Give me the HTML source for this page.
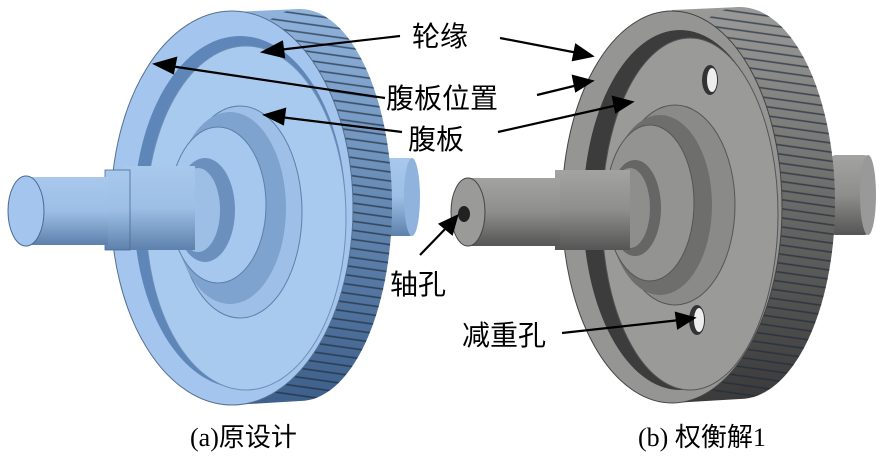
<!DOCTYPE html>
<html><head><meta charset="utf-8"><style>
html,body{margin:0;padding:0;background:#fff;width:880px;height:458px;overflow:hidden}
svg{display:block}
text{font-family:"Liberation Serif","Noto Sans CJK SC",serif;fill:#000}
</style></head><body>
<svg width="880" height="458" viewBox="0 0 880 458" xmlns="http://www.w3.org/2000/svg">
<defs>
<linearGradient id="bt" x1="0" y1="0" x2="0" y2="1"><stop offset="0" stop-color="#8fb3dc"/><stop offset="1" stop-color="#3d5f8a"/></linearGradient>
<linearGradient id="gt" x1="0" y1="0" x2="0" y2="1"><stop offset="0" stop-color="#9a9a98"/><stop offset="1" stop-color="#3a3a3a"/></linearGradient>
<linearGradient id="bs" x1="0" y1="0" x2="0" y2="1"><stop offset="0" stop-color="#a8c8ec"/><stop offset="0.5" stop-color="#9dbfe6"/><stop offset="1" stop-color="#5d81ac"/></linearGradient>
<linearGradient id="gs" x1="0" y1="0" x2="0" y2="1"><stop offset="0" stop-color="#a3a3a1"/><stop offset="0.5" stop-color="#8e8e8c"/><stop offset="1" stop-color="#555"/></linearGradient>
<pattern id="stripe" width="10" height="9" patternUnits="userSpaceOnUse" patternTransform="rotate(8)"><rect width="10" height="9" fill="none"/><line x1="0" y1="8" x2="10" y2="8" stroke="#1e2a3a" stroke-width="1.6" opacity="0.7"/></pattern>
</defs>

<!-- LEFT GEAR -->
<rect x="375" y="158" width="40" height="78" rx="6" fill="url(#bs)"/>
<ellipse cx="412" cy="197" rx="8" ry="39" fill="#8fb3dc"/>
<ellipse cx="300" cy="205" rx="92" ry="196" fill="url(#bt)"/>
<polygon points="232,12 300,9 300,401 232,405" fill="url(#bt)"/>
<ellipse cx="300" cy="205" rx="92" ry="196" fill="url(#stripe)"/>
<ellipse cx="232" cy="208" rx="121" ry="197" fill="#a4c6ee" stroke="#55708f" stroke-width="1"/>
<ellipse cx="240" cy="212" rx="106" ry="176" fill="#5e86b8"/>
<ellipse cx="246" cy="218" rx="100" ry="172" fill="#a8caef" stroke="#6f8fb5"/>
<ellipse cx="240" cy="212" rx="62" ry="106" fill="#9ec0e8" stroke="#5e7fa8"/>
<ellipse cx="230" cy="208" rx="56" ry="96" fill="#7fa3cf"/>
<ellipse cx="218" cy="205" rx="48" ry="78" fill="#a6c7ee" stroke="#5e7fa8"/>
<ellipse cx="205" cy="210" rx="30" ry="52" fill="#6c90bd"/>
<ellipse cx="198" cy="210" rx="22" ry="42" fill="#9dbfe6"/>
<rect x="125" y="166" width="70" height="84" fill="url(#bs)"/>
<rect x="105" y="170" width="25" height="80" fill="url(#bs)" stroke="#4a6a95" stroke-width="0.8"/>
<rect x="28" y="177" width="80" height="68" fill="url(#bs)"/>
<ellipse cx="26" cy="211" rx="18" ry="35" fill="#a4c6ee" stroke="#4a6a95"/>

<!-- RIGHT GEAR -->
<rect x="830" y="155" width="40" height="80" rx="6" fill="url(#gs)"/>
<ellipse cx="868" cy="195" rx="8" ry="40" fill="#999"/>
<ellipse cx="740" cy="203" rx="95" ry="196" fill="url(#gt)"/>
<polygon points="672,10 740,7 740,399 672,403" fill="url(#gt)"/>
<ellipse cx="740" cy="203" rx="95" ry="196" fill="url(#stripe)"/>
<ellipse cx="672" cy="207" rx="110" ry="196" fill="#959593" stroke="#444"/>
<ellipse cx="680" cy="210" rx="97" ry="180" fill="#3c3c3c"/>
<ellipse cx="690" cy="214" rx="88" ry="176" fill="#9a9a98" stroke="#555"/>
<ellipse cx="710" cy="80" rx="8" ry="15" fill="#333"/><ellipse cx="712" cy="80" rx="5" ry="12" fill="#eee"/>
<ellipse cx="697" cy="320" rx="8" ry="15" fill="#333"/><ellipse cx="699" cy="320" rx="5" ry="12" fill="#eee"/>
<ellipse cx="675" cy="205" rx="60" ry="100" fill="#8a8a88" stroke="#555"/>
<ellipse cx="660" cy="205" rx="52" ry="90" fill="#6e6e6c"/>
<ellipse cx="650" cy="203" rx="44" ry="78" fill="#939391" stroke="#555"/>
<ellipse cx="635" cy="208" rx="26" ry="48" fill="#666"/>
<ellipse cx="630" cy="208" rx="20" ry="40" fill="#8e8e8c"/>
<rect x="555" y="170" width="75" height="80" fill="url(#gs)"/>
<rect x="470" y="178" width="90" height="68" fill="url(#gs)"/>
<ellipse cx="468" cy="212" rx="17" ry="34" fill="#9a9a98" stroke="#444"/>
<ellipse cx="464" cy="214" rx="6" ry="8" fill="#222"/>

<!-- ARROWS -->
<g stroke="#000" stroke-width="2.2" fill="#000">
<line x1="400" y1="36" x2="278" y2="50"/><polygon points="263,52 282,42 284,57"/>
<line x1="385" y1="98" x2="170" y2="66"/><polygon points="155,64 176,58 173,73"/>
<line x1="402" y1="132" x2="280" y2="117"/><polygon points="265,115 285,109 283,124"/>
<line x1="500" y1="38" x2="578" y2="53"/><polygon points="592,56 573,60 576,45"/>
<line x1="537" y1="95" x2="578" y2="85"/><polygon points="592,81 576,91 573,76"/>
<line x1="498" y1="132" x2="618" y2="105"/><polygon points="632,102 616,112 613,97"/>
<line x1="420" y1="255" x2="448" y2="226"/><polygon points="457,216 452,234 440,224"/>
<line x1="562" y1="333" x2="680" y2="320"/><polygon points="694,318 678,328 676,313"/>
</g>

<!-- LABELS -->
<g font-size="28">
<text x="412" y="46">轮缘</text>
<text x="386" y="108">腹板位置</text>
<text x="408" y="149">腹板</text>
<text x="390" y="294">轴孔</text>
<text x="462" y="345">减重孔</text>
</g>
<g font-size="26">
<text x="190" y="446">(a)原设计</text>
<text x="638" y="446">(b) 权衡解1</text>
</g>
</svg>
</body></html>
